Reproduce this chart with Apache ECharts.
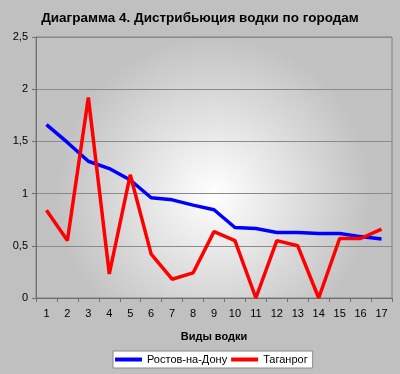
<!DOCTYPE html>
<html><head><meta charset="utf-8">
<script src="https://cdn.jsdelivr.net/npm/echarts@6/dist/echarts.min.js"></script>
<style>html,body{margin:0;padding:0;background:#c0c0c0;}#c{width:400px;height:374px;}</style>
</head><body><div id="c"></div>
<script>
const categories = ['1','2','3','4','5','6','7','8','9','10','11','12','13','14','15','16','17'];
const rostov = [1.66,1.49,1.31,1.24,1.13,0.96,0.94,0.89,0.845,0.675,0.665,0.627,0.627,0.617,0.617,0.588,0.565];
const taganrog = [0.84,0.55,1.92,0.23,1.18,0.42,0.18,0.24,0.636,0.55,0,0.55,0.50,0,0.57,0.57,0.66];
const seriesNames = ['Ростов-на-Дону','Таганрог'];
const titleText = 'Диаграмма 4. Дистрибьюция водки по городам';
const xName = 'Виды водки';

const chart = echarts.init(document.getElementById('c'), null, {renderer:'canvas'});
const font = 'Liberation Sans, Arial, sans-serif';
chart.setOption({
  backgroundColor:'#c0c0c0',
  animation:false,
  title:{text:titleText,left:'center',top:6,textStyle:{fontFamily:font,fontSize:13.5,fontWeight:'bold',color:'#000'}},
  grid:{left:36,right:8,top:37,bottom:76,show:true,borderColor:'#808080',borderWidth:1,
    backgroundColor:new echarts.graphic.RadialGradient(0.5,0.6,0.6,[{offset:0,color:'#ffffff'},{offset:1,color:'#c2c2c2'}])},
  legend:{top:351,left:113,data:seriesNames,backgroundColor:'#ffffff',borderColor:'#888',borderWidth:1,
    padding:[3,5,3,2],itemGap:4,itemWidth:27,itemHeight:4,icon:'rect',
    textStyle:{fontFamily:font,fontSize:11,color:'#000'}},
  xAxis:{type:'category',data:categories,boundaryGap:true,name:xName,nameLocation:'middle',nameGap:33,
    nameTextStyle:{fontFamily:font,fontSize:11,fontWeight:'bold',color:'#000'},
    axisLine:{lineStyle:{color:'#707070',width:1}},
    axisTick:{show:true,alignWithLabel:false,length:4,lineStyle:{color:'#707070'}},
    axisLabel:{fontFamily:font,fontSize:11,color:'#000',margin:10}},
  yAxis:{type:'value',min:0,max:2.5,interval:0.5,
    axisLine:{show:true,lineStyle:{color:'#707070',width:1}},
    axisTick:{show:true,length:4,lineStyle:{color:'#707070'}},
    splitLine:{show:true,lineStyle:{color:'#8a8a8a',width:1}},
    axisLabel:{fontFamily:font,fontSize:11,color:'#000',margin:8,formatter:v=>String(v).replace('.',',')}},
  series:[
    {name:seriesNames[0],type:'line',data:rostov,symbol:'none',lineStyle:{color:'#0000ff',width:3.5},itemStyle:{color:'#0000ff'}},
    {name:seriesNames[1],type:'line',data:taganrog,symbol:'none',lineStyle:{color:'#ff0000',width:3.5},itemStyle:{color:'#ff0000'}}
  ]
});
</script></body></html>
